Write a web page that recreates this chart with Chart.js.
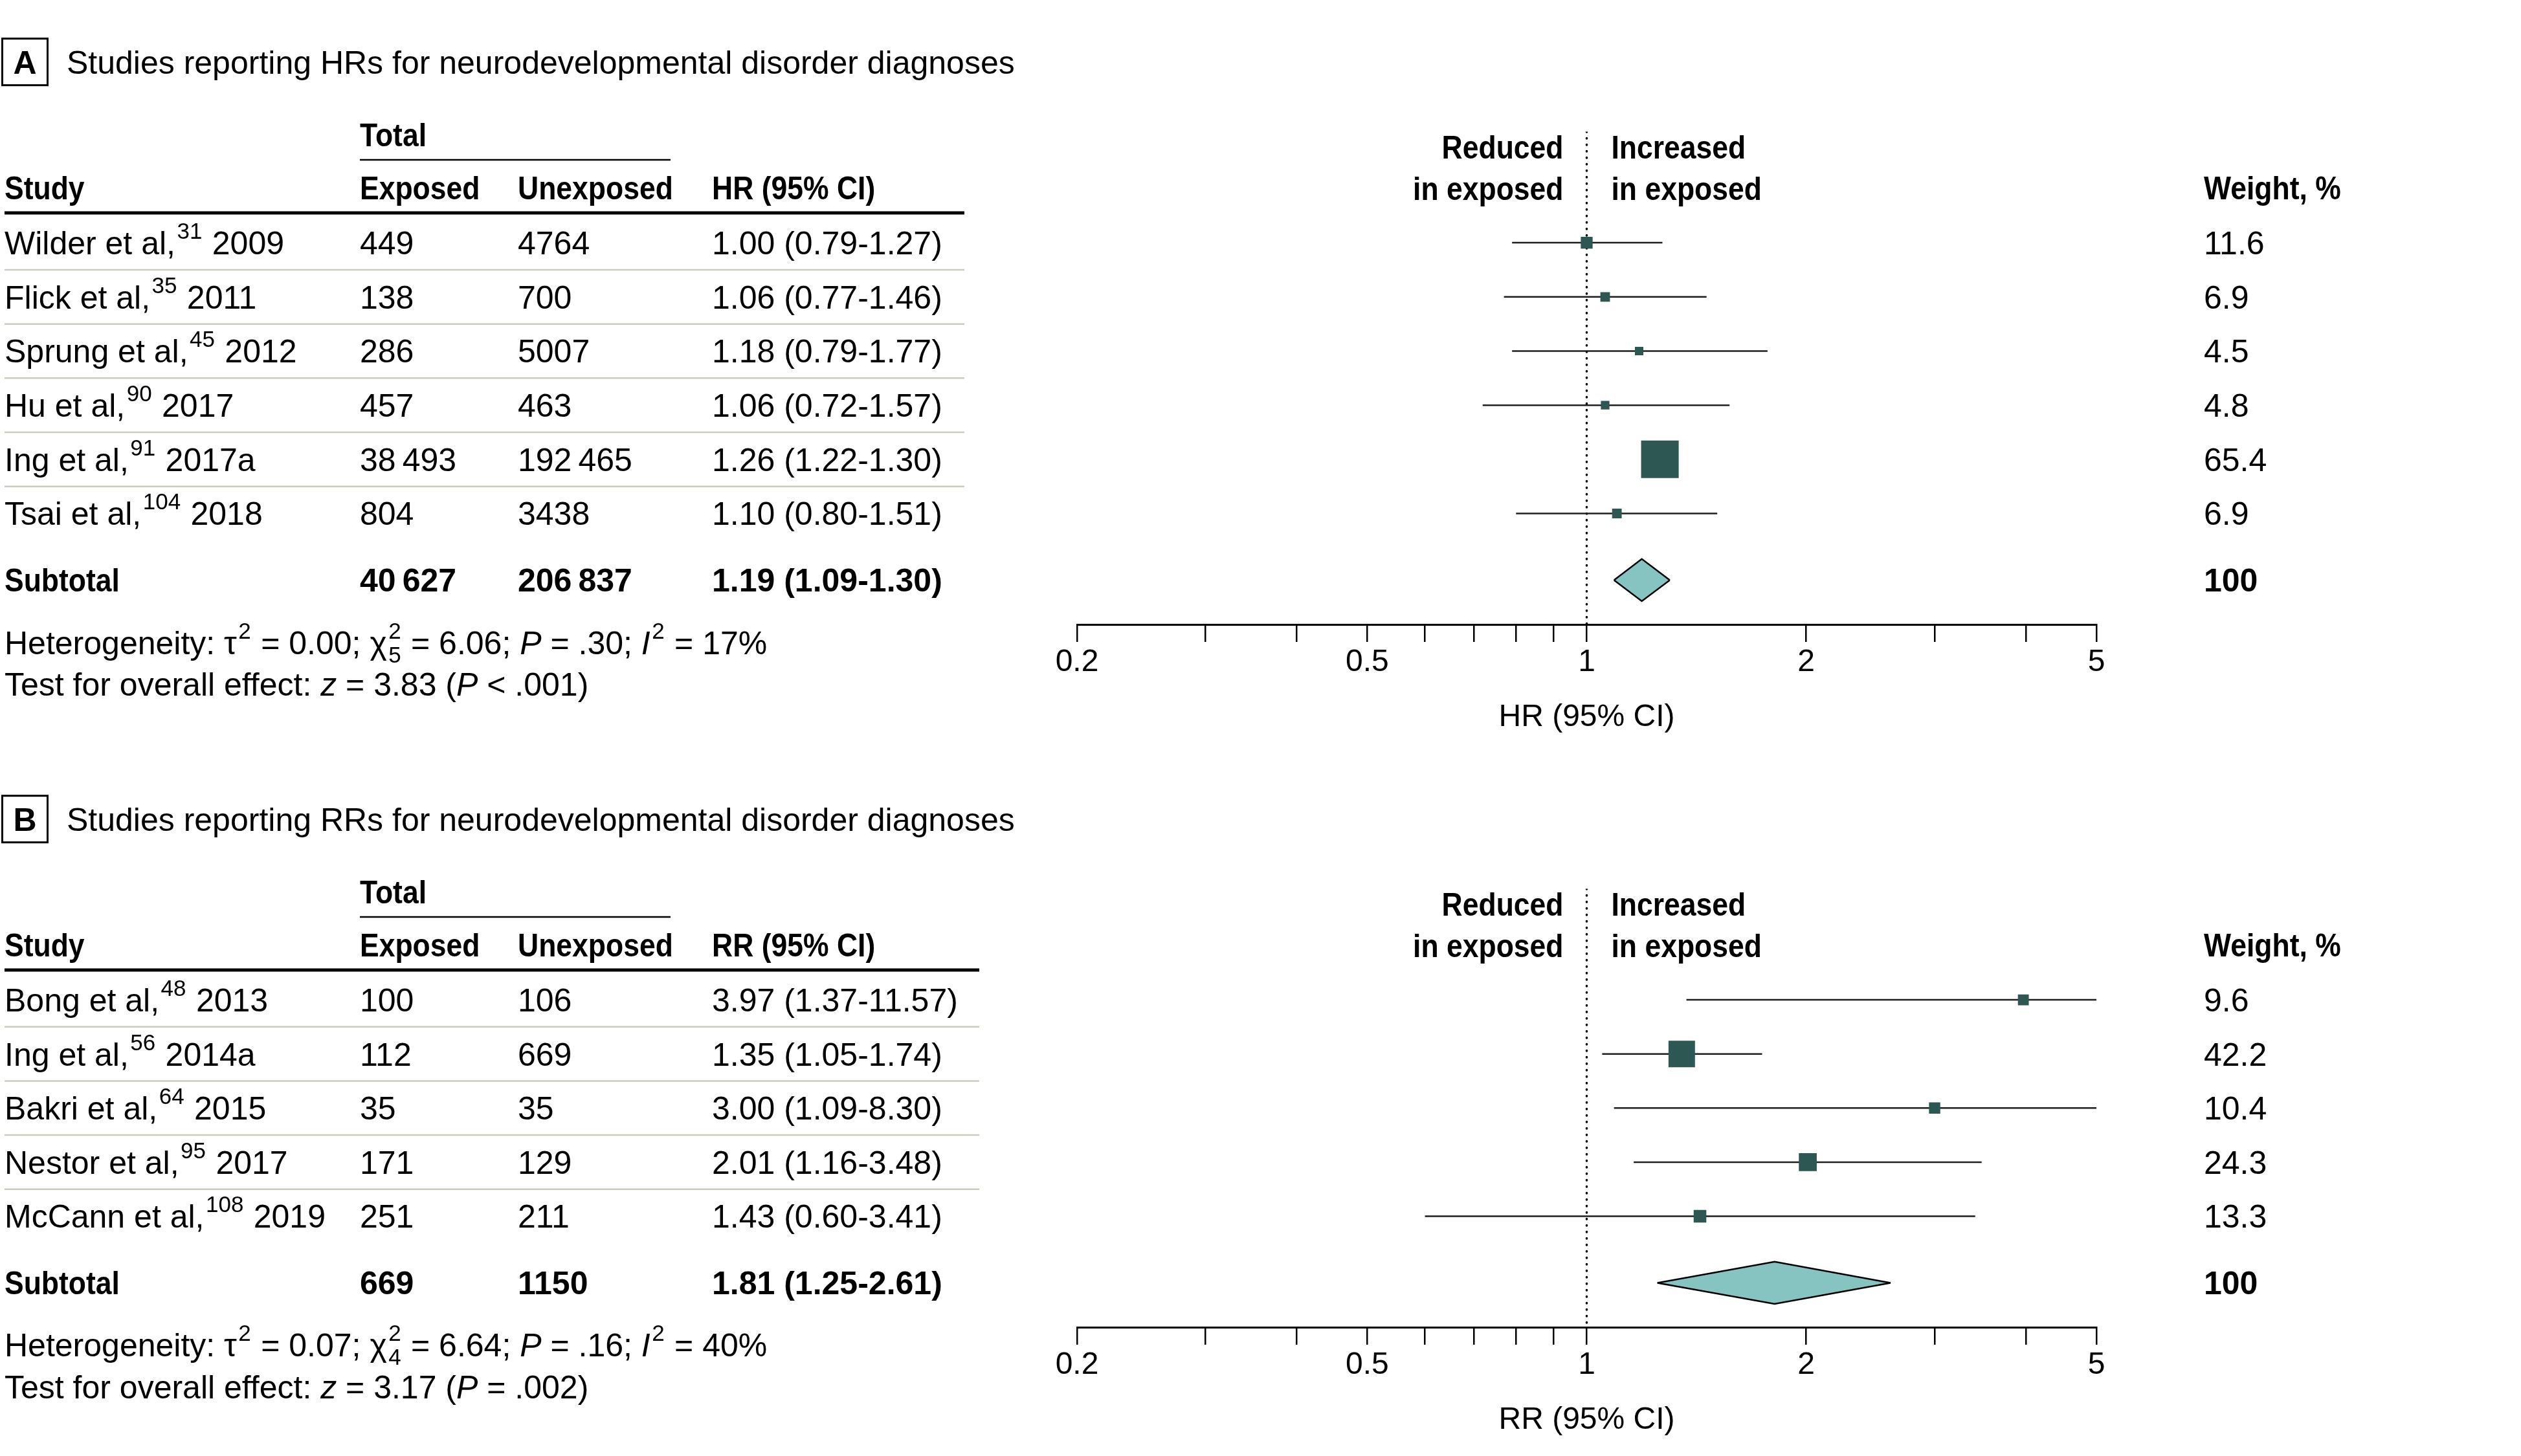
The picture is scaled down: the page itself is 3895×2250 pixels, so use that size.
<!DOCTYPE html>
<html>
<head>
<meta charset="utf-8">
<script src="https://cdn.jsdelivr.net/npm/chart.js@4.4.1/dist/chart.umd.min.js"></script>
<style>
  html, body { margin: 0; padding: 0; background: #fff; overflow: hidden; }
  canvas { position: absolute; left: 0; }
</style>
</head>
<body>
<canvas id="panelA" width="3895" height="1170" style="top:0px;width:3895px;height:1170px"></canvas>
<canvas id="panelB" width="3895" height="1086" style="top:1170px;width:3895px;height:1086px"></canvas>
<script>
// shared axis ticks
const tickValues = [0.2, 0.3, 0.4, 0.5, 0.6, 0.7, 0.8, 0.9, 1, 2, 3, 4, 5];
const labeledTicks = [0.2, 0.5, 1, 2, 5];
const tickLabels = ['0.2', '0.5', '1', '2', '5'];

// panel A: HRs
const authorsA = ['Wilder et al,', 'Flick et al,', 'Sprung et al,', 'Hu et al,', 'Ing et al,', 'Tsai et al,'];
const refsA = ['31', '35', '45', '90', '91', '104'];
const yearsA = ['2009', '2011', '2012', '2017', '2017a', '2018'];
const exposedA = [449, 138, 286, 457, 38493, 804];
const unexposedA = [4764, 700, 5007, 463, 192465, 3438];
const estA = [1.00, 1.06, 1.18, 1.06, 1.26, 1.10];
const lowA = [0.79, 0.77, 0.79, 0.72, 1.22, 0.80];
const highA = [1.27, 1.46, 1.77, 1.57, 1.30, 1.51];
const weightA = [11.6, 6.9, 4.5, 4.8, 65.4, 6.9];
const totalsA = [40627, 206837];
const subtotalA = [1.19, 1.09, 1.30];
const hetA = ['0.00', '5', '6.06', '.30', '17%'];
const effectA = ['3.83', '<', '.001'];

// panel B: RRs
const authorsB = ['Bong et al,', 'Ing et al,', 'Bakri et al,', 'Nestor et al,', 'McCann et al,'];
const refsB = ['48', '56', '64', '95', '108'];
const yearsB = ['2013', '2014a', '2015', '2017', '2019'];
const exposedB = [100, 112, 35, 171, 251];
const unexposedB = [106, 669, 35, 129, 211];
const estB = [3.97, 1.35, 3.00, 2.01, 1.43];
const lowB = [1.37, 1.05, 1.09, 1.16, 0.60];
const highB = [11.57, 1.74, 8.30, 3.48, 3.41];
const weightB = [9.6, 42.2, 10.4, 24.3, 13.3];
const totalsB = [669, 1150];
const subtotalB = [1.81, 1.25, 2.61];
const hetB = ['0.07', '4', '6.64', '.16', '40%'];
const effectB = ['3.17', '=', '.002'];

const SANS = '"Liberation Sans", Arial, sans-serif';
const TXT = 50;
const SQUARE = '#2d5752';
const DIAMOND = '#86c4c1';

function fmtCount(n) {
  if (n < 10000) return String(n);
  return String(n).replace(/\B(?=(\d{3})+(?!\d))/g, '\u2009');
}
function fmtCI(e, l, h) {
  return e.toFixed(2) + ' (' + l.toFixed(2) + '-' + h.toFixed(2) + ')';
}
function boxSide(w) {
  return 9.7 + 0.74 * w;
}
function font(size, bold, italic) {
  return (italic ? 'italic ' : '') + (bold ? 'bold ' : '') + size + 'px ' + SANS;
}

// text with superscripts, subscripts and italics; y is the visual middle.
// sx squeezes glyphs sideways (the journal's bold face is narrower than Arial bold)
function rich(ctx, x, y, parts, o) {
  o = o || {};
  const size = TXT;
  const bold = !!o.bold;
  const sx = o.sx || 1;
  const small = Math.round(size * 0.7);
  const runs = parts.map(p => {
    const r = typeof p === 'string' ? { t: p } : p;
    if (r.sup || r.sub) {
      ctx.font = font(small, bold);
      r.w = (Math.max(r.sup ? ctx.measureText(r.sup).width : 0, r.sub ? ctx.measureText(r.sub).width : 0) + size * 0.08) * sx;
    } else {
      ctx.font = font(size, bold, r.i);
      r.w = ctx.measureText(r.t).width * sx;
    }
    return r;
  });
  const total = runs.reduce((s, r) => s + r.w, 0);
  let cx = o.align === 'right' ? x - total : (o.align === 'center' ? x - total / 2 : x);
  const base = y + size * 0.358;
  ctx.textAlign = 'left';
  ctx.textBaseline = 'alphabetic';
  runs.forEach(r => {
    ctx.save();
    ctx.translate(cx, base);
    ctx.scale(sx, 1);
    if (r.sup || r.sub) {
      ctx.font = font(small, bold);
      if (r.sup) ctx.fillText(r.sup, size * 0.05, -size * 0.48);
      if (r.sub) ctx.fillText(r.sub, size * 0.05, size * 0.26);
    } else {
      ctx.font = font(size, bold, r.i);
      ctx.fillText(r.t, 0, 0);
    }
    ctx.restore();
    cx += r.w;
  });
}

function hline(ctx, x1, x2, y, w, color) {
  ctx.beginPath();
  ctx.moveTo(x1, y);
  ctx.lineTo(x2, y);
  ctx.lineWidth = w;
  ctx.strokeStyle = color;
  ctx.stroke();
}

function tablePlugin(p) {
  return {
    id: 'table' + p.letter,
    afterDraw(chart) {
      const ctx = chart.ctx;
      const yS = chart.scales.y;
      const Y = v => yS.getPixelForValue(v);
      const n = p.est.length;
      const cols = [7, 556, 800, 1100];
      const wx = 3405;
      const head = { bold: true, sx: 0.89 };
      const strong = { bold: true };
      ctx.save();
      ctx.fillStyle = '#000';

      // panel letter box and title
      const ty = Y(-3.34);
      ctx.lineWidth = 3;
      ctx.strokeStyle = '#000';
      ctx.strokeRect(3.5, ty - 36, 70, 72);
      rich(ctx, 38.5, ty, [p.letter], { bold: true, align: 'center' });
      rich(ctx, 103, ty, [p.title]);

      // column headers
      rich(ctx, cols[1], Y(-2.0), ['Total'], head);
      hline(ctx, cols[1], 1036, Y(-1.53), 2.5, '#000');
      const hy = Y(-1.02);
      rich(ctx, cols[0], hy, ['Study'], head);
      rich(ctx, cols[1], hy, ['Exposed'], head);
      rich(ctx, cols[2], hy, ['Unexposed'], head);
      rich(ctx, cols[3], hy, [p.measure + ' (95% CI)'], head);
      rich(ctx, wx, hy, ['Weight, %'], head);
      hline(ctx, 7, p.tableRight, Y(-0.55), 5, '#000');

      // direction labels around the null line
      const x1 = chart.scales.x.getPixelForValue(1);
      rich(ctx, x1 - 36, Y(-1.77), ['Reduced'], { bold: true, sx: 0.89, align: 'right' });
      rich(ctx, x1 - 36, Y(-1.0), ['in exposed'], { bold: true, sx: 0.89, align: 'right' });
      rich(ctx, x1 + 38, Y(-1.77), ['Increased'], head);
      rich(ctx, x1 + 38, Y(-1.0), ['in exposed'], head);

      // study rows
      for (let i = 0; i < n; i++) {
        const ry = Y(i);
        rich(ctx, cols[0], ry, [p.authors[i], { sup: p.refs[i] }, ' ' + p.years[i]]);
        rich(ctx, cols[1], ry, [fmtCount(p.exposed[i])]);
        rich(ctx, cols[2], ry, [fmtCount(p.unexposed[i])]);
        rich(ctx, cols[3], ry, [fmtCI(p.est[i], p.low[i], p.high[i])]);
        rich(ctx, wx, ry, [p.weight[i].toFixed(1)]);
        if (i < n - 1) hline(ctx, 7, p.tableRight, Y(i + 0.5), 2.5, '#c8cdbd');
      }

      // subtotal
      const sy = Y(n + 0.23);
      rich(ctx, cols[0], sy, ['Subtotal'], head);
      rich(ctx, cols[1], sy, [fmtCount(p.totals[0])], strong);
      rich(ctx, cols[2], sy, [fmtCount(p.totals[1])], strong);
      rich(ctx, cols[3], sy, [fmtCI(p.sub[0], p.sub[1], p.sub[2])], strong);
      rich(ctx, wx, sy, ['100'], strong);

      // heterogeneity and overall effect
      const h = p.het;
      rich(ctx, cols[0], Y(n + 1.38), ['Heterogeneity: \u03c4', { sup: '2' }, ' = ' + h[0] + '; \u03c7', { sup: '2', sub: h[1] },
        ' = ' + h[2] + '; ', { t: 'P', i: true }, ' = ' + h[3] + '; ', { t: 'I', i: true }, { sup: '2' }, ' = ' + h[4]]);
      const e = p.effect;
      rich(ctx, cols[0], Y(n + 2.15), ['Test for overall effect: ', { t: 'z', i: true }, ' = ' + e[0] + ' (', { t: 'P', i: true },
        ' ' + e[1] + ' ' + e[2] + ')']);
      ctx.restore();
    }
  };
}

function buildPanel(id, p) {
  const n = p.est.length;
  const subY = n + 0.23;
  const yMin = -2.05;
  const yMax = n + 1.05;
  const datasets = [];

  // dotted null line
  datasets.push({
    data: [{ x: 1, y: yMin }, { x: 1, y: yMax }],
    showLine: true, borderColor: '#000', borderWidth: 3.5, borderDash: [0.5, 9.5], borderCapStyle: 'round',
    pointRadius: 0, order: 6
  });
  // confidence intervals
  p.est.forEach((e, i) => {
    datasets.push({
      data: [{ x: p.low[i], y: i }, { x: p.high[i], y: i }],
      showLine: true, borderColor: '#1e1e1e', borderWidth: 2.5, pointRadius: 0, order: 5
    });
  });
  // pooled estimate diamond, as two halves filled between
  datasets.push({
    data: [{ x: p.sub[1], y: subY }, { x: p.sub[0], y: subY - 0.39 }, { x: p.sub[2], y: subY }],
    showLine: true, fill: '+1', backgroundColor: DIAMOND, borderColor: '#000', borderWidth: 2.5,
    pointRadius: 0, order: 4
  });
  datasets.push({
    data: [{ x: p.sub[1], y: subY }, { x: p.sub[0], y: subY + 0.39 }, { x: p.sub[2], y: subY }],
    showLine: true, fill: false, borderColor: '#000', borderWidth: 2.5, pointRadius: 0, order: 3
  });
  // study estimates, square size from weight
  datasets.push({
    data: p.est.map((e, i) => ({ x: e, y: i })),
    pointStyle: 'rect',
    pointRadius: c => boxSide(p.weight[c.dataIndex]) / Math.SQRT2,
    backgroundColor: SQUARE, borderWidth: 0, order: 2
  });

  return new Chart(document.getElementById(id), {
    type: 'scatter',
    data: { datasets },
    options: {
      responsive: false,
      animation: false,
      events: [],
      layout: { padding: { left: 1664, right: 656, top: 203.6, bottom: 0 } },
      plugins: { legend: { display: false }, tooltip: { enabled: false } },
      scales: {
        x: {
          type: 'logarithmic',
          min: 0.2,
          max: 5,
          bounds: 'data',
          afterBuildTicks: s => { s.ticks = tickValues.map(v => ({ value: v })); },
          afterFit: s => { s.height = 205; },
          ticks: {
            autoSkip: false, maxRotation: 0, padding: 3, color: '#000',
            font: { family: SANS, size: 48 },
            callback: v => {
              const k = labeledTicks.indexOf(v);
              return k >= 0 ? tickLabels[k] : '';
            }
          },
          grid: { drawOnChartArea: false, drawTicks: true, tickLength: 27, color: '#000', lineWidth: 2.5 },
          border: { display: true, color: '#000', width: 3 },
          title: {
            display: true, text: p.measure + ' (95% CI)', color: '#000',
            font: { family: SANS, size: 48 }, padding: { top: 0, bottom: 32 }
          }
        },
        y: { type: 'linear', display: false, reverse: true, min: yMin, max: yMax }
      }
    },
    plugins: [tablePlugin(p)]
  });
}

buildPanel('panelA', {
  letter: 'A', measure: 'HR', title: 'Studies reporting HRs for neurodevelopmental disorder diagnoses', tableRight: 1490,
  authors: authorsA, refs: refsA, years: yearsA, exposed: exposedA, unexposed: unexposedA,
  est: estA, low: lowA, high: highA, weight: weightA, totals: totalsA, sub: subtotalA, het: hetA, effect: effectA
});
buildPanel('panelB', {
  letter: 'B', measure: 'RR', title: 'Studies reporting RRs for neurodevelopmental disorder diagnoses', tableRight: 1513,
  authors: authorsB, refs: refsB, years: yearsB, exposed: exposedB, unexposed: unexposedB,
  est: estB, low: lowB, high: highB, weight: weightB, totals: totalsB, sub: subtotalB, het: hetB, effect: effectB
});
</script>
</body>
</html>
